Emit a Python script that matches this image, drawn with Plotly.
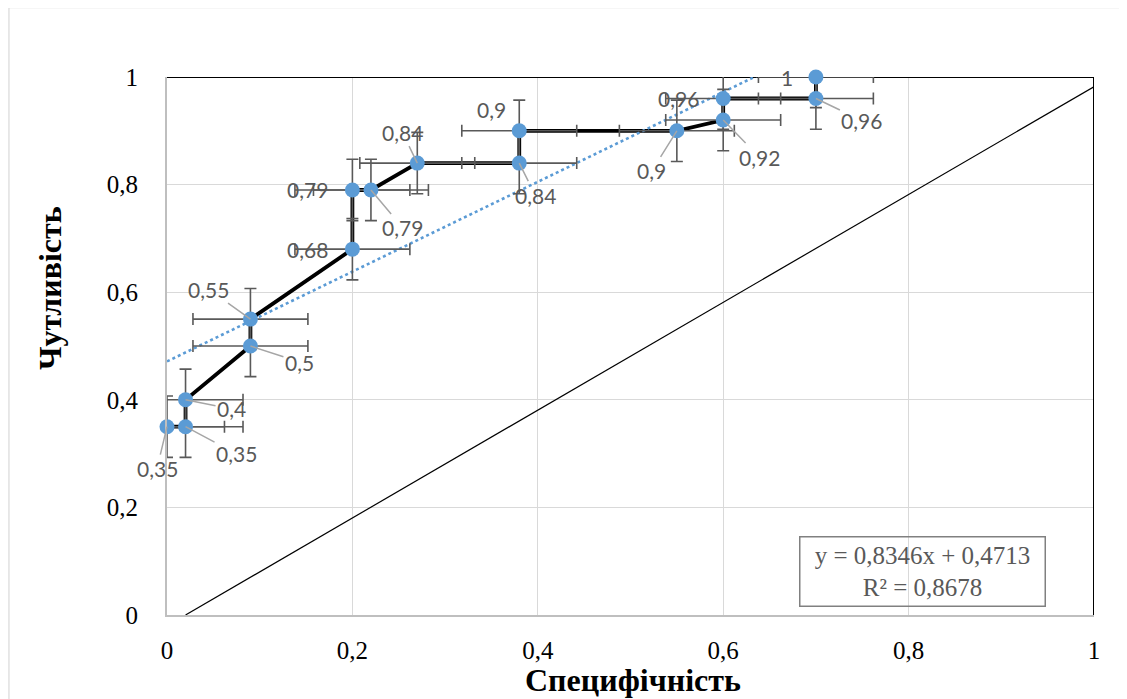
import plotly.graph_objects as go

# ---- data ----
spec = [0, 0.02, 0.02, 0.09, 0.09, 0.20, 0.20, 0.22, 0.27, 0.38, 0.38, 0.55, 0.60, 0.60, 0.70, 0.70]
sens = [0.35, 0.35, 0.40, 0.50, 0.55, 0.68, 0.79, 0.79, 0.84, 0.84, 0.90, 0.90, 0.92, 0.96, 0.96, 1.00]
point_labels = ["0,35", "0,35", "0,4", "0,5", "0,55", "0,68", "0,79", "0,79",
                "0,84", "0,84", "0,9", "0,9", "0,92", "0,96", "0,96", "1"]
err_x = 0.062
err_y = 0.057
trend_slope = 0.8346
trend_intercept = 0.4713
trend_r2 = "0,8678"
trend_x = [0, 0.70]
diag_x = [0.02, 1.008]
diag_y = [0, 0.99]
x_ticks = [0, 0.2, 0.4, 0.6, 0.8, 1]
x_ticktext = ["0", "0,2", "0,4", "0,6", "0,8", "1"]
y_ticks = [0, 0.2, 0.4, 0.6, 0.8, 1]
y_ticktext = ["0", "0,2", "0,4", "0,6", "0,8", "1"]

# label placement (pixel offsets of label centre from the point) and leader visibility
label_offsets = [(-10, 42), (51, 27), (46, 9), (49, 16), (-42, -30), (-45, 0), (-45, 0), (32, 38),
                 (-15, -31), (16, 32), (-28, -21), (-25, 40), (36, 37), (-45, 0), (46, 22), (-29, 0)]
leader = [True, True, True, True, True, False, False, True,
          True, True, False, True, True, False, True, False]

BLUE = "#5B9BD5"
GRAY_TXT = "#595959"
SERIF = "Liberation Serif"

fig = go.Figure()

# reference diagonal
fig.add_trace(go.Scatter(x=diag_x, y=diag_y, mode="lines",
                         line=dict(color="black", width=1.2), hoverinfo="skip", showlegend=False))

# ROC line
fig.add_trace(go.Scatter(x=spec, y=sens, mode="lines",
                         line=dict(color="black", width=3.8), showlegend=False))

# linear trendline (from the equation shown on the chart)
trend_y = [trend_slope * v + trend_intercept for v in trend_x]
fig.add_trace(go.Scatter(x=trend_x, y=trend_y, mode="lines",
                         line=dict(color=BLUE, width=2.6, dash="dot"), showlegend=False))

# error bars (clipped to the plot area)
fig.add_trace(go.Scatter(
    x=spec, y=sens, mode="markers",
    marker=dict(color="rgba(0,0,0,0)", size=1),
    error_x=dict(type="constant", value=err_x, color=GRAY_TXT, thickness=1.6, width=6),
    error_y=dict(type="constant", value=err_y, color=GRAY_TXT, thickness=1.6, width=6),
    hoverinfo="skip", showlegend=False))

# markers (not clipped, like the original)
fig.add_trace(go.Scatter(
    x=spec, y=sens, mode="markers", cliponaxis=False,
    marker=dict(color=BLUE, size=15), showlegend=False))

annotations = []
for xv, yv, txt, (dx, dy), ld in zip(spec, sens, point_labels, label_offsets, leader):
    annotations.append(dict(
        x=xv, y=yv, xref="x", yref="y", text=txt, showarrow=True,
        ax=dx, ay=dy, axref="pixel", ayref="pixel",
        arrowhead=0, arrowwidth=1.5, standoff=0,
        arrowcolor="#A6A6A6" if ld else "rgba(0,0,0,0)",
        font=dict(family="Lato", size=21, color=GRAY_TXT)))

# trendline equation box
annotations.append(dict(
    x=0.815, y=0.08, xref="paper", yref="paper", xanchor="center", yanchor="middle",
    text=f"y = {str(trend_slope).replace('.', ',')}x + {str(trend_intercept).replace('.', ',')}<br>R² = {trend_r2}",
    showarrow=False, align="center",
    font=dict(family=SERIF, size=25, color=GRAY_TXT),
    bordercolor="#808080", borderwidth=1.5, borderpad=4, width=236, height=60))

# axis titles
annotations.append(dict(x=0.503, y=-0.121, xref="paper", yref="paper", text="<b>Специфічність</b>",
                        showarrow=False, xanchor="center", yanchor="middle",
                        font=dict(family=SERIF, size=32, color="black")))
annotations.append(dict(x=-0.126, y=0.608, xref="paper", yref="paper", text="<b>Чутливість</b>",
                        showarrow=False, xanchor="center", yanchor="middle", textangle=-90,
                        font=dict(family=SERIF, size=32, color="black")))

shapes = [
    # outer chart border
    dict(type="rect", xref="paper", yref="paper", x0=-0.1705, x1=1.2, y0=-0.4, y1=1.129,
         line=dict(color="#D9D9D9", width=1.2), layer="below"),
    # plot area top / right black border (beneath the traces)
    dict(type="line", xref="x", yref="y", x0=0, x1=1, y0=1, y1=1,
         line=dict(color="black", width=2), layer="between"),
    dict(type="line", xref="x", yref="y", x0=1, x1=1, y0=0, y1=1,
         line=dict(color="black", width=2), layer="between"),
]

# the page adds an 8px body margin, so the figure is sized to compensate
fig.update_layout(
    width=1119, height=691,
    margin=dict(l=159, r=33, t=69, b=84),
    paper_bgcolor="white", plot_bgcolor="white",
    annotations=annotations, shapes=shapes,
    xaxis=dict(range=[0, 1], tickvals=x_ticks, ticktext=x_ticktext,
               showgrid=True, gridcolor="#D9D9D9", gridwidth=1, zeroline=False,
               showline=True, linecolor="#BFBFBF", linewidth=2,
               ticks="", ticklabelstandoff=12,
               tickfont=dict(family=SERIF, size=25, color="black")),
    yaxis=dict(range=[0, 1], tickvals=y_ticks, ticktext=y_ticktext,
               showgrid=True, gridcolor="#D9D9D9", gridwidth=1, zeroline=False,
               showline=True, linecolor="#BFBFBF", linewidth=2,
               ticks="", ticklabelstandoff=22,
               tickfont=dict(family=SERIF, size=25, color="black")),
)

fig.write_html("out.html")
